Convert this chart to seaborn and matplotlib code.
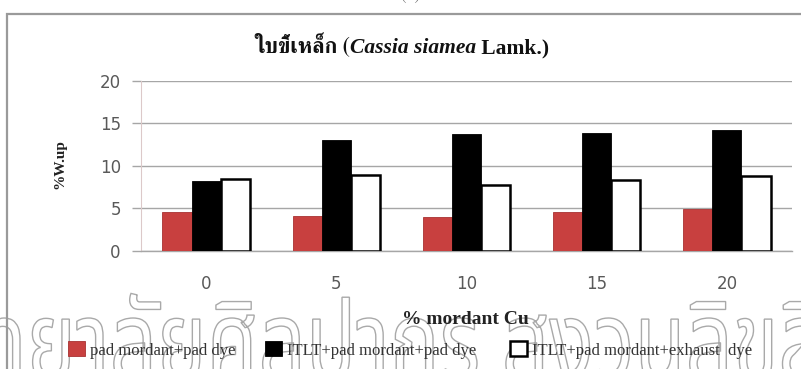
import numpy as np
import pandas as pd
import matplotlib
matplotlib.use("Agg")
import matplotlib.pyplot as plt
from matplotlib.patches import Rectangle, PathPatch
from matplotlib.textpath import TextPath
from matplotlib.transforms import Affine2D
from matplotlib import font_manager as fm
from matplotlib.font_manager import FontProperties
from matplotlib.ft2font import FT2Font
import seaborn as sns

# ---------------- data ----------------
categories = ["0", "5", "10", "15", "20"]
series_names = ["pad mordant+pad dye",
                "ITLT+pad mordant+pad dye",
                "ITLT+pad mordant+exhaust  dye"]
pad_pad = [4.6, 4.15, 3.95, 4.6, 4.9]
itlt_pad_pad = [8.2, 13.05, 13.7, 13.9, 14.2]
itlt_pad_exhaust = [8.5, 8.9, 7.75, 8.3, 8.75]
y_ticks = [0, 5, 10, 15, 20]
title_thai = "ใบขี้เหล็ก"
title_latin_italic = "Cassia siamea"
title_latin_end = " Lamk.)"
y_label = "%W.up"
x_label = "% mordant Cu"
watermark = "มหาวิทยาลัยศิลปากร สงวนลิขสิทธิ์"
panel_tag = "(ก)"

colors = ["#c8403f", "#000000", "#ffffff"]

# ---------------- Thai font detection ----------------
def thai_fonts():
    out = []
    for f in fm.fontManager.ttflist:
        try:
            ft = FT2Font(f.fname)
            if ft.get_char_index(ord("ก")) and ft.get_char_index(ord("ข")):
                out.append(f.name)
        except Exception:
            pass
    return sorted(set(out))

def pick_title(cands):
    for c in cands:
        if "Serif" in c or "Loma" in c or "Norasi" in c:
            return c
    return cands[0] if cands else "DejaVu Sans"

def pick(cands, prefs, avoid=()):
    for p in prefs:
        for c in cands:
            if p in c and not any(a in c for a in avoid):
                return c
    return cands[0] if cands else "DejaVu Sans"

TH = thai_fonts()
THAI_TITLE = pick_title(TH)
THAI_WM = pick(TH, ["Noto Sans Thai", "Kanit", "Prompt", "Umpush", "Waree", "Sawasdee", "Tlwg Typo", "Thai"],
               avoid=("Looped",))
SERIF = "Liberation Serif"

df = pd.DataFrame({
    "cat": categories * 3,
    "val": pad_pad + itlt_pad_pad + itlt_pad_exhaust,
    "series": sum([[s] * len(categories) for s in series_names], []),
})

sns.set_theme(style="white")
plt.rcParams["font.family"] = ["DejaVu Sans", THAI_TITLE]

W, H = 801, 369
fig = plt.figure(figsize=(W / 100, H / 100), dpi=100)
ax = fig.add_axes([141 / W, 1 - 251 / H, (792 - 141) / W, (251 - 80.5) / H])
ax.set_zorder(2)
ax.patch.set_alpha(0)

sns.barplot(data=df, x="cat", y="val", hue="series", order=categories,
            hue_order=series_names, palette=colors, width=0.67, gap=0,
            saturation=1, legend=False, ax=ax, zorder=3)

edge_cols = ["#a83232", "#000000", "#000000"]
edge_w = [0.6, 0.6, 1.8]
for cont, ec, lw in zip(ax.containers, edge_cols, edge_w):
    for p in cont.patches:
        p.set_edgecolor(ec)
        p.set_linewidth(lw)
        p.set_zorder(3)

ax.set_ylim(0, 20)
ax.set_yticks(y_ticks)
ax.set_xlim(-0.5, len(categories) - 0.5)
ax.yaxis.grid(True, color="#a6a6a6", linewidth=1.0, zorder=0)
ax.xaxis.grid(False)
for s in ["top", "right"]:
    ax.spines[s].set_visible(False)
ax.spines["left"].set_color("#dcc9c9")
ax.spines["left"].set_linewidth(0.8)
ax.spines["bottom"].set_color("#a6a6a6")
ax.spines["bottom"].set_linewidth(1.0)
ax.tick_params(axis="y", length=6.5, width=1.0, color="#a6a6a6",
               labelsize=12, labelcolor="#595959", pad=8, left=True)
ax.tick_params(axis="x", length=0, labelsize=12, labelcolor="#595959", pad=17)
ax.set_xlabel("")
ax.set_ylabel("")

# axis titles
fig.text(60 / W, 1 - 164 / H, y_label, rotation=90, ha="center", va="center",
         fontfamily=SERIF, fontweight="bold", fontsize=11, color="#222222", zorder=4)
fig.text(465 / W, 1 - 319 / H, x_label, ha="center", va="center",
         fontfamily=SERIF, fontweight="bold", fontsize=14, color="#222222", zorder=4)

# title with mixed fonts
renderer = fig.canvas.get_renderer()
ty = 1 - 53 / H
pieces = [
    (title_thai + " (", dict(fontfamily=[THAI_TITLE, SERIF], fontweight="bold")),
    (title_latin_italic, dict(fontfamily=SERIF, fontweight="bold", fontstyle="italic")),
    (title_latin_end, dict(fontfamily=SERIF, fontweight="bold")),
]
texts = [fig.text(0, ty, s, fontsize=15.5, va="baseline", ha="left",
                  color="#111111", zorder=4, **kw) for s, kw in pieces]
widths = [t.get_window_extent(renderer).width for t in texts]
x = 402 - sum(widths) / 2
for t, w in zip(texts, widths):
    t.set_x(x / W)
    x += w

# panel tag partly cut at top
fig.text(410 / W, 1 + 4 / H, panel_tag, ha="center", va="center",
         fontfamily=[THAI_TITLE, SERIF], fontsize=12, color="#666666")

# outer frame
fig.add_artist(Rectangle((7 / W, -0.05), 1.1, 1 - 14 / H + 0.05,
                         transform=fig.transFigure, fill=False,
                         edgecolor="#9a9a9a", linewidth=1.6, zorder=1))

# watermark (outlined, condensed)
fp = FontProperties(family=THAI_WM)
S = 100.0
idx_a = watermark.index("ยาลัย")
idx_b = watermark.index("ศิลปากร") + len("ศิลปากร")
xa = TextPath((0, 0), watermark[:idx_a], size=S, prop=fp).get_extents().x1
xb = TextPath((0, 0), watermark[:idx_b], size=S, prop=fp).get_extents().x1
hn = TextPath((0, 0), "น", size=S, prop=fp).get_extents().height
sx = (477 - 20) / (xb - xa)
sy = 62 / hn
tx = 20 - xa * sx
wm_path = TextPath((0, 0), watermark, size=S, prop=fp)
fig.add_artist(PathPatch(wm_path, transform=Affine2D().scale(sx, sy).translate(tx, H - 380),
                         facecolor="none", edgecolor="#a9a9a9", linewidth=1.0, zorder=0.5))

# legend: one entry per anchor
anchors_x = [68, 265, 510]
for cont, name, x0 in zip(ax.containers, series_names, anchors_x):
    leg = fig.legend([cont], [name], loc="center left",
                     bbox_to_anchor=(x0 / W, 1 - 350 / H), frameon=False,
                     handlelength=1.0, handleheight=1.0, handletextpad=0.3,
                     borderpad=0, borderaxespad=0,
                     prop={"family": SERIF, "size": 12})
    leg.get_texts()[0].set_color("#333333")
    leg.set_zorder(5)

fig.savefig("out.png", dpi=100)
